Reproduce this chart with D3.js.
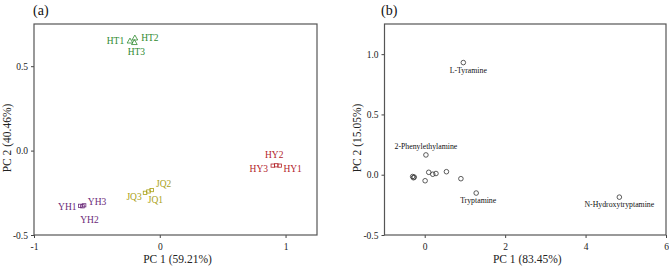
<!DOCTYPE html>
<html><head><meta charset="utf-8">
<script src="https://cdn.jsdelivr.net/npm/d3@7"></script>
<style>
html,body{margin:0;padding:0;background:#fff;}
svg{display:block;font-family:"Liberation Serif","Times New Roman",serif;}
</style></head>
<body><svg id="c" width="669" height="267"></svg>
<script>
// ---------- Data: panel (a) samples ----------
const samplesA = ['HT1','HT2','HT3','JQ1','JQ2','JQ3','YH1','YH2','YH3','HY1','HY2','HY3'];
const groupA   = ['HT','HT','HT','JQ','JQ','JQ','YH','YH','YH','HY','HY','HY'];
const pc1A = [-0.237,-0.198,-0.202,-0.090,-0.064,-0.117,-0.632,-0.615,-0.602, 0.953, 0.926, 0.899];
const pc2A = [ 0.647, 0.665, 0.638,-0.242,-0.234,-0.250,-0.327,-0.330,-0.324,-0.089,-0.087,-0.089];
const xTicksA = [-1, 0, 1];
const yTicksA = [-0.5, 0.0, 0.5];

// ---------- Data: panel (b) variables ----------
const namesB = ['L-Tyramine','2-Phenylethylamine','Tryptamine','N-Hydroxytryptamine','','','','','','','','',''];
const pc1B = [0.96, 0.03, 1.28, 4.84, -0.30, -0.28, -0.26, 0.01, 0.10, 0.20, 0.28, 0.54, 0.90];
const pc2B = [0.93, 0.164,-0.152,-0.186,-0.015,-0.025,-0.020,-0.050, 0.020, 0.004, 0.010, 0.025,-0.033];
const xTicksB = [0, 2, 4, 6];
const yTicksB = [-0.5, 0.0, 0.5, 1.0];

// ---------- Layout / style (not data) ----------
const colors = {HT:'#2f8a2f', JQ:'#aaa116', YH:'#6b2a78', HY:'#b3242a'};
const labelOffA = [[-14.5,0],[15,0],[2,9.5],[7,9],[12,-6],[-11,4],[-13,1],[7,13.5],[13,-3],[13,3],[-2,-10],[-14,3]];
const labelOffB = [[5,8],[0,-8],[2,7.5],[0,7]];

const svg = d3.select('#c');
const fmtY = d => d3.format('.1f')(d).replace('\u2212','-');
const fmtX = d => String(d);

function frame(x, y, xt, yt, xTitle, yTitle, panel, panelX, yTitleX){
  const g = svg.append('g');
  const [x0,x1] = x.range(), [y0,y1] = y.range();
  const ax = g.append('g').attr('transform',`translate(0,${y0})`)
    .call(d3.axisBottom(x).tickValues(xt).tickFormat(fmtX).tickSize(3).tickSizeOuter(0));
  const ay = g.append('g').attr('transform',`translate(${x0},0)`)
    .call(d3.axisLeft(y).tickValues(yt).tickFormat(fmtY).tickSize(3).tickSizeOuter(0));
  [ax,ay].forEach(a=>{
    a.select('.domain').remove();
    a.selectAll('line').attr('stroke','#444');
    a.selectAll('text').attr('font-family','Liberation Serif').attr('font-size',9.5).attr('fill','#222');
  });
  ax.selectAll('text').attr('dy','0.95em');
  g.append('rect').attr('x',x0).attr('y',y1).attr('width',x1-x0).attr('height',y0-y1)
    .attr('fill','none').attr('stroke','#555').attr('stroke-width',1.2);
  g.append('text').attr('x',(x0+x1)/2+2).attr('y',263).attr('text-anchor','middle')
    .attr('font-size',11.5).attr('fill','#222').text(xTitle);
  g.append('text').attr('transform',`translate(${yTitleX},138) rotate(-90)`).attr('text-anchor','middle')
    .attr('dominant-baseline','central').attr('font-size',11.5).attr('fill','#222').text(yTitle);
  g.append('text').attr('x',panelX).attr('y',15).attr('font-size',14).attr('fill','#111').text(panel);
}

// ---------- Panel (a) ----------
const xA = d3.scaleLinear().domain([-1,1.25]).range([34,317]);
const yA = d3.scaleLinear().domain([-0.5,0.75]).range([235,24]);
frame(xA,yA,xTicksA,yTicksA,'PC 1 (59.21%)','PC 2 (40.46%)','(a)',33,7);

const gA = svg.append('g');
samplesA.forEach((s,i)=>{
  const cx = xA(pc1A[i]), cy = yA(pc2A[i]), col = colors[groupA[i]];
  if (groupA[i]==='HT'){
    gA.append('path').attr('d',d3.symbol(d3.symbolTriangle,14)())
      .attr('transform',`translate(${cx},${cy})`).attr('fill','none').attr('stroke',col).attr('stroke-width',0.8);
  } else {
    gA.append('rect').attr('x',cx-1.8).attr('y',cy-1.6).attr('width',3.6).attr('height',3.2)
      .attr('fill','none').attr('stroke',col).attr('stroke-width',0.8);
  }
  gA.append('text').attr('x',cx+labelOffA[i][0]).attr('y',cy+labelOffA[i][1])
    .attr('text-anchor','middle').attr('dominant-baseline','central')
    .attr('font-size',9.5).attr('fill',col).text(s);
});

// ---------- Panel (b) ----------
const xB = d3.scaleLinear().domain([-1,6]).range([384.5,666]);
const yB = d3.scaleLinear().domain([-0.5,1.25]).range([235,24]);
frame(xB,yB,xTicksB,yTicksB,'PC 1 (83.45%)','PC 2 (15.05%)','(b)',381,357);

const gB = svg.append('g');
pc1B.forEach((v,i)=>{
  const cx = xB(v), cy = yB(pc2B[i]);
  gB.append('circle').attr('cx',cx).attr('cy',cy).attr('r',2.3)
    .attr('fill','none').attr('stroke','#333').attr('stroke-width',0.8);
  if (namesB[i]){
    gB.append('text').attr('x',cx+labelOffB[i][0]).attr('y',cy+labelOffB[i][1])
      .attr('text-anchor','middle').attr('dominant-baseline','central')
      .attr('font-size',7.8).attr('fill','#111').text(namesB[i]);
  }
});
</script></body></html>
